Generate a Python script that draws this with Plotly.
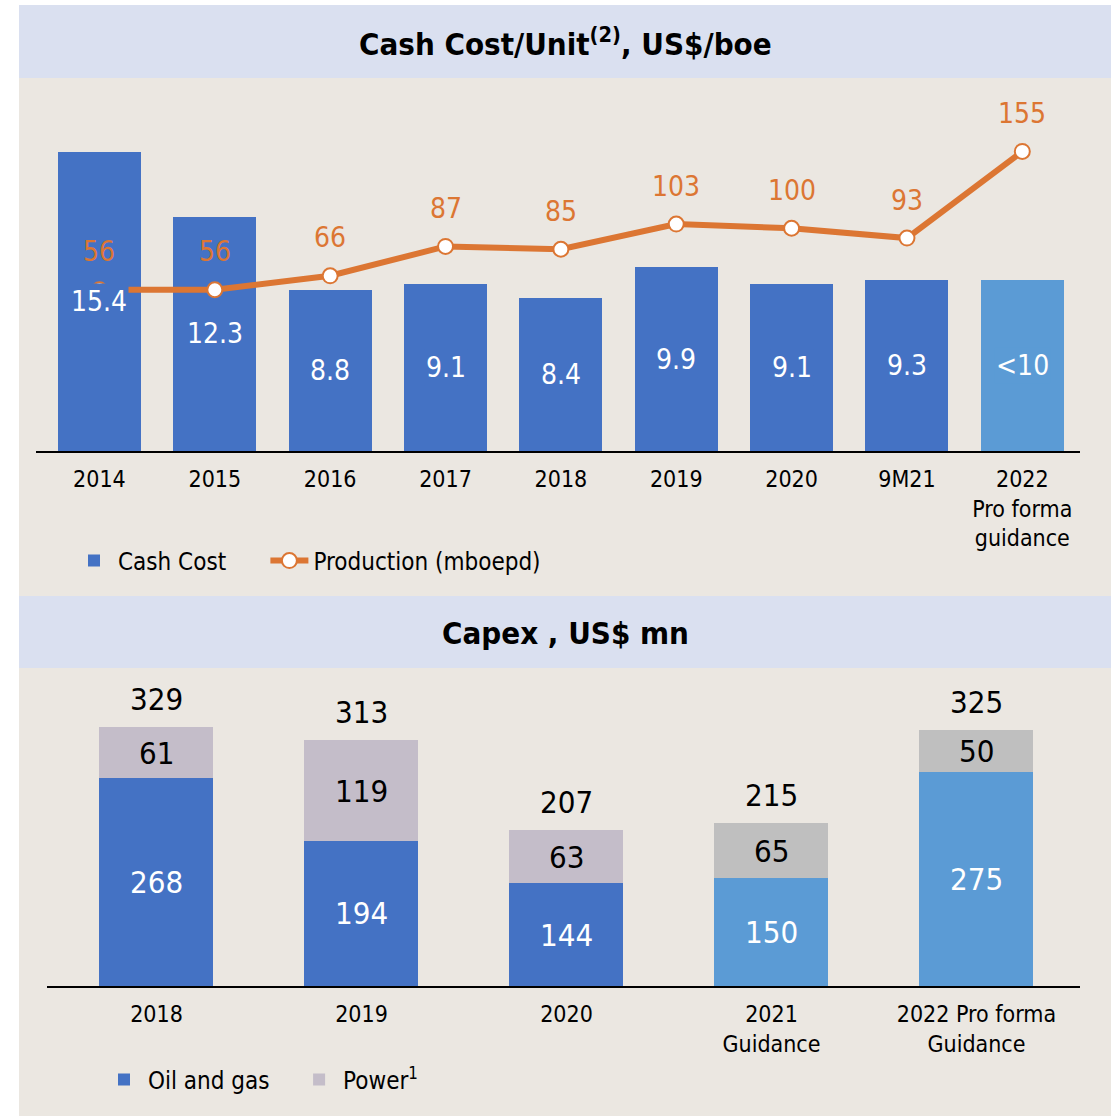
import plotly.graph_objects as go

# ---------------- data ----------------
cc_categories = ["2014", "2015", "2016", "2017", "2018", "2019", "2020", "9M21", "2022<br>Pro forma<br>guidance"]
cash_cost = [15.4, 12.3, 8.8, 9.1, 8.4, 9.9, 9.1, 9.3, 9.3]
cash_cost_labels = ["15.4", "12.3", "8.8", "9.1", "8.4", "9.9", "9.1", "9.3", "<10"]
production = [56, 56, 66, 87, 85, 103, 100, 93, 155]

capex_categories = ["2018", "2019", "2020", "2021<br>Guidance", "2022 Pro forma<br>Guidance"]
oil_gas = [268, 194, 144, 150, 275]
power = [61, 119, 63, 65, 50]
capex_total = [329, 313, 207, 215, 325]

# ---------------- style ----------------
W = H = 1119
FONT = "DejaVu Sans Condensed, Roboto, sans-serif"
BLUE = "#4472c4"
LIGHT_BLUE = "#5b9bd5"
ORANGE = "#dc7633"
MAUVE = "#c4bdc9"
GREY = "#bfbfbf"
BEIGE = "#ebe7e1"
BAND = "#dae0f0"
PAD1 = "&nbsp;" * 5  # spacing after first legend entry (top)
PAD2 = "&nbsp;" * 3  # spacing after first legend entry (bottom)

def X(px):
    return px / W

def Y(px):
    return 1 - px / H

cc_colors = [BLUE] * 8 + [LIGHT_BLUE]
oil_colors = [BLUE] * 3 + [LIGHT_BLUE] * 2
power_colors = [MAUVE] * 3 + [GREY] * 2

# axis ranges (chart baseline not at zero in the original)
y1_range = [1.1, 17.89]
y2_range = [-59.4, 191.8]
y3_range = [22.5, 384.2]

fig = go.Figure()

fig.add_trace(go.Bar(
    x=cc_categories, y=cash_cost, marker=dict(color=cc_colors, line=dict(width=0)),
    width=0.72, name="Cash Cost" + PAD1, xaxis="x", yaxis="y", legend="legend",
    hoverinfo="skip",
))
fig.add_trace(go.Scatter(
    x=cc_categories, y=production, mode="lines+markers", name="Production (mboepd)",
    line=dict(color=ORANGE, width=6),
    marker=dict(size=15, color="white", line=dict(color=ORANGE, width=2)),
    xaxis="x", yaxis="y2", legend="legend", hoverinfo="skip",
))

fig.add_trace(go.Bar(
    x=capex_categories, y=oil_gas, marker=dict(color=oil_colors, line=dict(width=0)),
    width=0.556, name="Oil and gas" + PAD2, xaxis="x3", yaxis="y3", legend="legend2",
    hoverinfo="skip",
))
fig.add_trace(go.Bar(
    x=capex_categories, y=power, marker=dict(color=power_colors, line=dict(width=0)),
    width=0.556, name="Power<sup>1</sup>", xaxis="x3", yaxis="y3", legend="legend2",
    hoverinfo="skip",
))

annotations = []
# titles
annotations.append(dict(xref="paper", yref="paper", x=0.5 * (X(19) + X(1111)), y=Y(42),
                        text="<b>Cash Cost/Unit<sup>(2)</sup>, US$/boe</b>", showarrow=False,
                        font=dict(family=FONT, size=31, color="black"), xanchor="center", yanchor="middle"))
annotations.append(dict(xref="paper", yref="paper", x=0.5 * (X(19) + X(1111)), y=Y(633),
                        text="<b>Capex , US$ mn</b>", showarrow=False,
                        font=dict(family=FONT, size=31, color="black"), xanchor="center", yanchor="middle"))

# cash cost labels (x given as category index)
for i, (v, t) in enumerate(zip(cash_cost, cash_cost_labels)):
    annotations.append(dict(x=i, y=(v + y1_range[0]) / 2, xref="x", yref="y", text=t, showarrow=False,
                            font=dict(family=FONT, size=28, color="white"),
                            bgcolor=cc_colors[i], borderpad=1))
# production labels
for i, v in enumerate(production):
    annotations.append(dict(x=i, y=v, xref="x", yref="y2", text=str(v), showarrow=False, yshift=38,
                            font=dict(family=FONT, size=28, color=ORANGE)))
# capex labels
for i, (o, p, t) in enumerate(zip(oil_gas, power, capex_total)):
    annotations.append(dict(x=i, y=(o + y3_range[0]) / 2, xref="x3", yref="y3", text=str(o), showarrow=False,
                            font=dict(family=FONT, size=31, color="white")))
    annotations.append(dict(x=i, y=o + p / 2, xref="x3", yref="y3", text=str(p), showarrow=False,
                            font=dict(family=FONT, size=31, color="black")))
    annotations.append(dict(x=i, y=t, xref="x3", yref="y3", text=str(t), showarrow=False, yshift=28,
                            font=dict(family=FONT, size=31, color="black")))

shapes = [
    dict(type="rect", xref="paper", yref="paper", x0=X(19), x1=X(1111), y0=Y(78), y1=Y(5),
         fillcolor=BAND, line=dict(width=0), layer="below"),
    dict(type="rect", xref="paper", yref="paper", x0=X(19), x1=X(1111), y0=Y(596), y1=Y(78),
         fillcolor=BEIGE, line=dict(width=0), layer="below"),
    dict(type="rect", xref="paper", yref="paper", x0=X(19), x1=X(1111), y0=Y(668), y1=Y(596),
         fillcolor=BAND, line=dict(width=0), layer="below"),
    dict(type="rect", xref="paper", yref="paper", x0=X(19), x1=X(1111), y0=Y(1116), y1=Y(668),
         fillcolor=BEIGE, line=dict(width=0), layer="below"),
]

tickfont = dict(family=FONT, size=23, color="black")
fig.update_layout(
    width=W, height=H,
    margin=dict(l=0, r=0, t=0, b=0),
    paper_bgcolor="white",
    plot_bgcolor="rgba(0,0,0,0)",
    barmode="stack",
    font=dict(family=FONT, color="black"),
    xaxis=dict(type="category", domain=[X(36), X(1080)], range=[-0.55, 8.5], showline=True,
               linecolor="black", linewidth=2, showgrid=False, zeroline=False, ticks="",
               ticklabelstandoff=6, tickfont=tickfont, anchor="y", fixedrange=True),
    yaxis=dict(domain=[Y(451), Y(100)], range=y1_range, visible=False, fixedrange=True),
    yaxis2=dict(domain=[Y(451), Y(100)], range=y2_range, visible=False, overlaying="y", fixedrange=True),
    xaxis3=dict(type="category", domain=[X(47), X(1080)], range=[-0.534, 4.505], showline=True,
                linecolor="black", linewidth=2, showgrid=False, zeroline=False, ticks="",
                ticklabelstandoff=6, tickfont=tickfont, anchor="y3", fixedrange=True),
    yaxis3=dict(domain=[Y(986), Y(680)], range=y3_range, visible=False, anchor="x3", fixedrange=True),
    legend=dict(orientation="h", x=X(70), y=Y(561), xanchor="left", yanchor="middle", traceorder="normal",
                itemwidth=38, font=dict(family=FONT, size=24, color="black"), bgcolor="rgba(0,0,0,0)"),
    legend2=dict(orientation="h", x=X(100), y=Y(1080), xanchor="left", yanchor="middle", traceorder="normal",
                 itemwidth=38, font=dict(family=FONT, size=24, color="black"), bgcolor="rgba(0,0,0,0)"),
    annotations=annotations,
    shapes=shapes,
    showlegend=True,
)

fig.write_html("out.html")
